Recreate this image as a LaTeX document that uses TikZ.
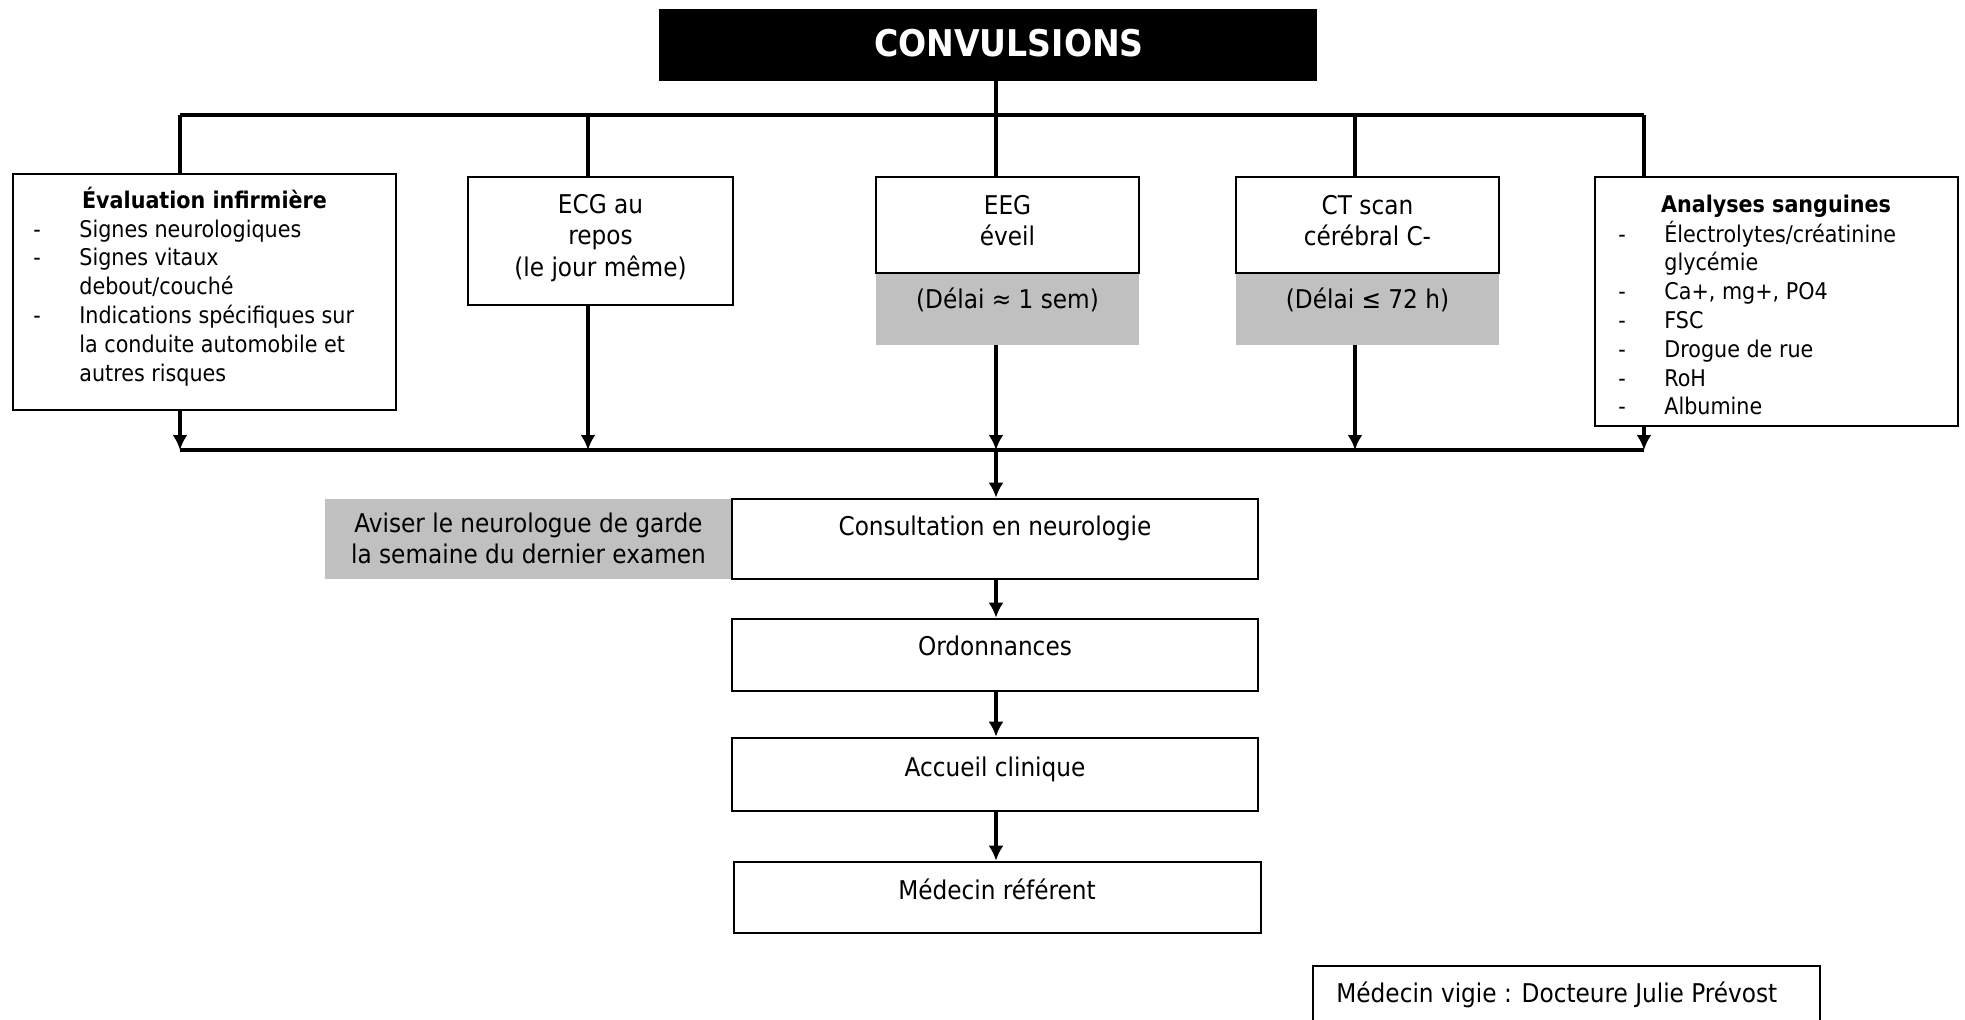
\documentclass[tikz,border=0pt]{standalone}
\usepackage{fontspec}
\setmainfont{DejaVu Sans Condensed}
\usetikzlibrary{arrows.meta}
\definecolor{delaygrey}{HTML}{C0C0C0}
\newcommand{\listsize}{\fontsize{11.5}{14.4}\selectfont}
\newcommand{\boxsize}{\fontsize{12.9}{15.8}\selectfont}
\newcommand{\titlesize}{\fontsize{18.4}{21}\selectfont}

\begin{document}
\begin{tikzpicture}[x=0.5pt, y=-0.5pt,
  frame/.style={draw, line width=1.3pt, fill=white, inner sep=0pt},
  shaded/.style={fill=delaygrey, inner sep=0pt},
  lbl/.style={inner sep=0pt, anchor=base, font=\boxsize},
  lst/.style={inner sep=0pt, anchor=base west, font=\listsize},
  link/.style={line width=1.9pt},
  arr/.style={link, -{Latex[length=7.5pt,width=7.5pt]}}]

\clip (0,0) rectangle (1965,1019);
\fill[white] (0,0) rectangle (1965,1019);

% ---- heading
\node[fill=black, inner sep=0pt, minimum width=329pt, minimum height=36pt] (title) at (988,45) {};
\node[inner sep=0pt, anchor=base, font=\titlesize\bfseries, text=white] (title-t) at (1009,56) {CONVULSIONS};

% ---- first row of boxes
\node[frame, minimum width=191.5pt, minimum height=118pt] (eval) at (204.5,292) {};
\node[lst, anchor=base, font=\listsize\bfseries] (eval-h) at (204.5,208) {Évaluation infirmière};
\node[lst] (eval-l) at (33,237) {\begin{tabular}[t]{@{}p{23pt}@{}l@{}}
- & Signes neurologiques\\
- & Signes vitaux\\
  & debout/couché\\
- & Indications spécifiques sur\\
  & la conduite automobile et\\
  & autres risques
\end{tabular}};

\node[frame, minimum width=132.5pt, minimum height=64pt] (ecg) at (600.5,241) {};
\node[lbl] (ecg-t) at (600.5,213) {\begin{tabular}[t]{@{}c@{}}ECG au\\repos\\(le jour même)\end{tabular}};

\node[shaded, minimum width=131.5pt, minimum height=36pt] (eeg-d) at (1007.5,309) {};
\node[frame, minimum width=131.5pt, minimum height=48pt] (eeg) at (1007.5,225) {};
\node[lbl] (eeg-t) at (1007.5,214) {\begin{tabular}[t]{@{}c@{}}EEG\\éveil\end{tabular}};
\node[lbl] (eeg-dt) at (1007.5,308) {(Délai ≈ 1 sem)};

\node[shaded, minimum width=131.5pt, minimum height=36pt] (ct-d) at (1367.5,309) {};
\node[frame, minimum width=131.5pt, minimum height=48pt] (ct) at (1367.5,225) {};
\node[lbl] (ct-t) at (1367.5,214) {\begin{tabular}[t]{@{}c@{}}CT scan\\cérébral C-\end{tabular}};
\node[lbl] (ct-dt) at (1367.5,308) {(Délai ≤ 72 h)};

\node[frame, minimum width=181.5pt, minimum height=124.5pt] (sang) at (1776.5,301.5) {};
\node[lst, anchor=base, font=\listsize\bfseries] (sang-h) at (1776,212) {Analyses sanguines};
\node[lst] (sang-l) at (1618,242) {\begin{tabular}[t]{@{}p{23pt}@{}l@{}}
- & Électrolytes/créatinine\\
  & glycémie\\
- & Ca+, mg+, PO4\\
- & FSC\\
- & Drogue de rue\\
- & RoH\\
- & Albumine
\end{tabular}};

% ---- follow-up column
\node[shaded, minimum width=203.5pt, minimum height=40pt] (aviser) at (528.5,539) {};
\node[lbl] (aviser-t) at (528.5,532) {\begin{tabular}[t]{@{}c@{}}Aviser le neurologue de garde\\la semaine du dernier examen\end{tabular}};

\node[frame, minimum width=263pt, minimum height=40pt] (consult) at (995,539) {};
\node[lbl] (consult-t) at (995,535) {Consultation en neurologie};

\node[frame, minimum width=263pt, minimum height=36pt] (ordo) at (995,655) {};
\node[lbl] (ordo-t) at (995,655) {Ordonnances};

\node[frame, minimum width=263pt, minimum height=36.5pt] (accueil) at (995,774.5) {};
\node[lbl] (accueil-t) at (995,776) {Accueil clinique};

\node[frame, minimum width=263.5pt, minimum height=35.5pt] (medref) at (997.5,897.5) {};
\node[lbl] (medref-t) at (997,899) {Médecin référent};

\node[frame, minimum width=253.5pt, minimum height=39.5pt] (vigie) at (1566.5,1005.5) {};
\node[lbl, anchor=base west] (vigie-t) at (1336,1002) {Médecin vigie : Docteure Julie Prévost};

% ---- distribution bar under the heading
\coordinate (t1) at (180,115);
\coordinate (t2) at (588,115);
\coordinate (t3) at (996,115);
\coordinate (t4) at (1355,115);
\coordinate (t5) at (1644,115);
\draw[link] (title.south -| t3) -- (t3);
\draw[link] (t1) -- (t5);
\draw[link] (t1) -- (t1 |- eval.north);
\draw[link] (t2) -- (t2 |- ecg.north);
\draw[link] (t3) -- (t3 |- eeg.north);
\draw[link] (t4) -- (t4 |- ct.north);
\draw[link] (t5) -- (t5 |- sang.north);

% ---- collecting bar
\coordinate (l1) at (180,450);
\coordinate (l2) at (588,450);
\coordinate (l3) at (996,450);
\coordinate (l4) at (1355,450);
\coordinate (l5) at (1644,450);
\draw[link] (l1) -- (l5);
\draw[arr] (eval.south -| l1) -- (l1);
\draw[arr] (ecg.south -| l2) -- (l2);
\draw[arr] (eeg-d.south -| l3) -- (l3);
\draw[arr] (ct-d.south -| l4) -- (l4);
\draw[arr] (sang.south -| l5) -- (l5);
\draw[arr] (l3) -- (consult.north -| l3);

% ---- sequence
\draw[arr] (consult.south -| l3) -- (ordo.north -| l3);
\draw[arr] (ordo.south -| l3) -- (accueil.north -| l3);
\draw[arr] (accueil.south -| l3) -- (medref.north -| l3);
\end{tikzpicture}
\end{document}
